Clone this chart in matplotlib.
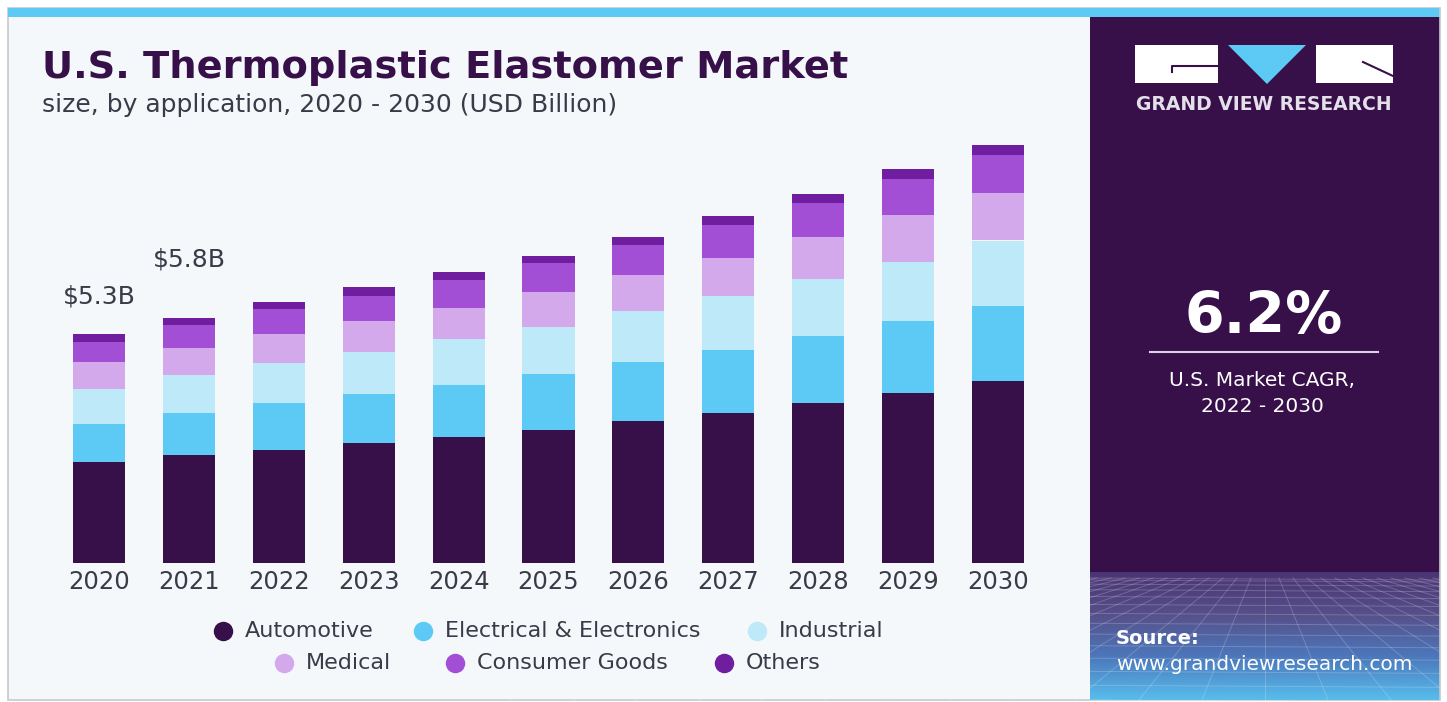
import matplotlib.pyplot as plt
import numpy as np
from matplotlib.patches import Rectangle, Polygon
from matplotlib.colors import LinearSegmentedColormap

plt.rcParams['font.family'] = ['DejaVu Sans']

# data (USD Billion)
years = ['2020', '2021', '2022', '2023', '2024', '2025', '2026', '2027', '2028', '2029', '2030']
automotive = [2.35, 2.51, 2.63, 2.78, 2.93, 3.10, 3.30, 3.49, 3.71, 3.95, 4.23]
electrical = [0.88, 0.99, 1.09, 1.16, 1.22, 1.30, 1.37, 1.47, 1.57, 1.67, 1.74]
industrial = [0.81, 0.87, 0.93, 0.97, 1.05, 1.10, 1.18, 1.24, 1.32, 1.38, 1.53]
medical = [0.63, 0.64, 0.68, 0.71, 0.74, 0.81, 0.84, 0.90, 0.98, 1.09, 1.11]
consumer = [0.47, 0.52, 0.57, 0.60, 0.65, 0.66, 0.71, 0.75, 0.79, 0.85, 0.89]
others = [0.19, 0.17, 0.16, 0.19, 0.18, 0.17, 0.19, 0.21, 0.21, 0.22, 0.23]

segments = ['Automotive', 'Electrical & Electronics', 'Industrial', 'Medical', 'Consumer Goods', 'Others']
series = [automotive, electrical, industrial, medical, consumer, others]
colors = ['#37104A', '#5DC9F5', '#BDE9F9', '#D4A9EB', '#A24FD6', '#6E1E9E']

value_labels = {0: '$5.3B', 1: '$5.8B'}
label_lift = {0: 37, 1: 58}

W, H = 1447, 702
fig = plt.figure(figsize=(W / 100, H / 100), dpi=100)
fig.patch.set_facecolor('white')

# background / decoration layer in pixel coordinates
bg = fig.add_axes([0, 0, 1, 1])
bg.set_xlim(0, W)
bg.set_ylim(H, 0)
bg.axis('off')

bg.add_patch(Rectangle((8, 8), 1432, 692, facecolor='#F4F8FB', edgecolor='#C8C8CC', lw=1.2))
bg.add_patch(Rectangle((8, 8), 1432, 9, facecolor='#5DC9F5', edgecolor='none'))
bg.add_patch(Rectangle((1090, 17), 350, 683, facecolor='#37104A', edgecolor='none'))

# gradient at the bottom of the side panel
cmap = LinearSegmentedColormap.from_list('panel', ['#4A3474', '#56508A', '#4C78BC', '#58BDEC'])
grad = np.linspace(0, 1, 200).reshape(-1, 1)
bg.imshow(grad, extent=[1090, 1440, 700, 572], aspect='auto', cmap=cmap, zorder=1)
# faint perspective grid
for k in range(14):
    yy = 578 + (k / 13) ** 1.6 * 122
    bg.plot([1090, 1440], [yy, yy + 2], color='white', lw=0.7, alpha=0.2, zorder=2)
for k in range(-12, 26):
    x0 = 1265 + k * 14
    bg.plot([x0, 1265 + (x0 - 1265) * 4.5], [578, 700], color='white', lw=0.7, alpha=0.2, zorder=2)
bg.add_patch(Rectangle((1440, 0), 7, H, facecolor='white', edgecolor='none', zorder=3))
bg.plot([1440, 1440], [8, 700], color='#C8C8CC', lw=1.2, zorder=4)

# logo
bg.add_patch(Rectangle((1135, 45), 83, 38, facecolor='white', edgecolor='none', zorder=3))
bg.plot([1172, 1172, 1218], [72, 66, 66], color='#37104A', lw=1.5, zorder=4)
bg.add_patch(Polygon([[1228, 45], [1306, 45], [1267, 84]], closed=True, facecolor='#5DC9F5', edgecolor='none', zorder=3))
bg.add_patch(Rectangle((1316, 45), 77, 38, facecolor='white', edgecolor='none', zorder=3))
bg.plot([1363, 1393], [62, 76], color='#37104A', lw=1.5, zorder=4)
bg.text(1264, 105, 'GRAND VIEW RESEARCH', color='#E4E0EA', fontsize=13.5, fontweight='bold',
        ha='center', va='center', zorder=4)

# CAGR block
bg.text(1264, 318, '6.2%', color='white', fontsize=41, fontweight='bold', ha='center', va='center', zorder=4)
bg.plot([1150, 1378], [352, 352], color='#D8D4E0', lw=1.5, zorder=4)
bg.text(1262, 380, 'U.S. Market CAGR,', color='white', fontsize=14.5, ha='center', va='center', zorder=4)
bg.text(1262, 407, '2022 - 2030', color='white', fontsize=14.5, ha='center', va='center', zorder=4)

bg.text(1116, 638, 'Source:', color='white', fontsize=14, fontweight='bold', ha='left', va='center', zorder=4)
bg.text(1116, 664, 'www.grandviewresearch.com', color='white', fontsize=14.5, ha='left', va='center', zorder=4)

# titles
bg.text(42, 78, 'U.S. Thermoplastic Elastomer Market', color='#37104A', fontsize=27.6,
        fontweight='bold', ha='left', va='baseline')
bg.text(42, 112, 'size, by application, 2020 - 2030 (USD Billion)', color='#3A3A48', fontsize=18,
        ha='left', va='baseline')

# legend
row1 = [(223, 631, 0), (423, 631, 1), (757, 631, 2)]
row2 = [(284, 663, 3), (455, 663, 4), (724, 663, 5)]
for lx, ly, i in row1 + row2:
    bg.plot(lx, ly, 'o', ms=14, color=colors[i], mec='none')
    bg.text(lx + 22, ly, segments[i], color='#3A3A48', fontsize=16, ha='left', va='center')

# bar chart
ax = fig.add_axes([40 / W, 1 - 563 / H, 1020 / W, (563 - 130) / H])
ax.patch.set_alpha(0)
x = np.arange(len(years))
bottom = np.zeros(len(years))
for vals, col, name in zip(series, colors, segments):
    ax.bar(x, vals, width=0.58, bottom=bottom, color=col, label=name, edgecolor='none')
    bottom += np.array(vals)

for i, txt in value_labels.items():
    ax.annotate(txt, (x[i], bottom[i]), xytext=(0, label_lift[i]), textcoords='offset pixels',
                ha='center', va='center', fontsize=18, color='#3A3A48')

ax.set_xlim((40 - 99) / 89.9, (1060 - 99) / 89.9)
ax.set_ylim(0, (563 - 130) / 43)
ax.set_xticks(x)
ax.set_xticklabels(years, fontsize=17.5, color='#3A3A48')
ax.tick_params(axis='x', length=0, pad=5)
ax.set_yticks([])
for s in ax.spines.values():
    s.set_visible(False)

fig.savefig('out.png', dpi=100)
